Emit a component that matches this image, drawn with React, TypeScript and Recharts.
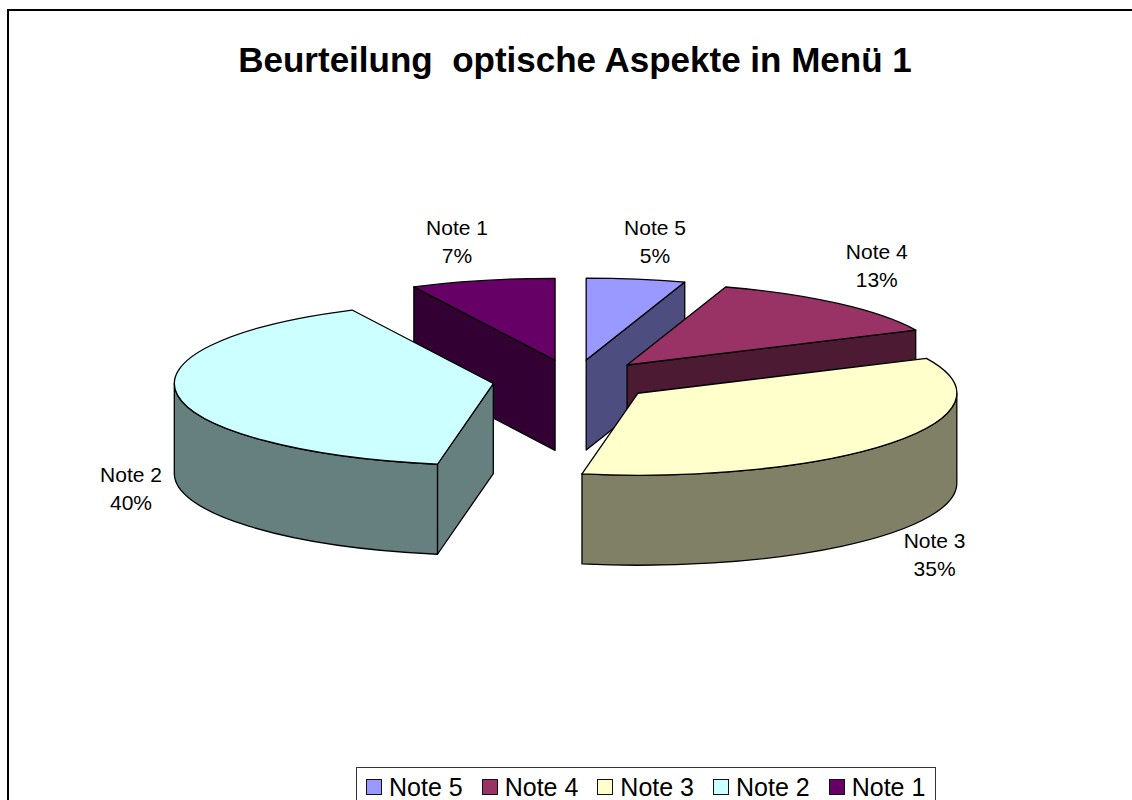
import React from "react";
import { PieChart, Pie, Legend } from "recharts";

const TITLE = "Beurteilung  optische Aspekte in Menü 1";
const categories = ["Note 5", "Note 4", "Note 3", "Note 2", "Note 1"];
const values = [5, 13, 34.8, 39.9, 7.3];
const colors = ["#9999FF", "#993366", "#FFFFCC", "#CCFFFF", "#660066"];

const FONT = '"Liberation Sans", Arial, sans-serif';
const TILT = 0.257;
const DEPTH = 90;
const EXPLODE = 81;
const RAD = Math.PI / 180;
const LABEL_RX = 370;
const LABEL_RY = 120;
const labelNudge: Record<string, [number, number]> = {
  "Note 5": [11, -1],
  "Note 4": [5, -10],
  "Note 3": [3, -2],
  "Note 2": [4, -2],
  "Note 1": [-14, -2],
};

// Note 1 is painted first because it sits behind Note 2, so the pie starts at its edge.
const rows = [4, 0, 1, 2, 3].map((i) => ({
  name: categories[i],
  value: values[i],
  fill: colors[i],
}));
const total = values.reduce((a, b) => a + b, 0);
const startAngle = 90 + (360 * values[4]) / total;

const darken = (hex: string) => {
  const n = parseInt(hex.slice(1), 16);
  const c = (s: number) => Math.round(((n >> s) & 255) / 2);
  return `rgb(${c(16)},${c(8)},${c(0)})`;
};

const centerOf = (cx: number, cy: number, mid: number) => [
  cx + EXPLODE * Math.cos(mid * RAD),
  cy - EXPLODE * TILT * Math.sin(mid * RAD),
];

function Slice3D(props: any) {
  const { cx, cy, outerRadius, startAngle: s, endAngle: e, midAngle, fill } = props;
  const rx = outerRadius;
  const ry = rx * TILT;
  const [ox, oy] = centerOf(cx, cy, midAngle);
  const pt = (a: number) => [ox + rx * Math.cos(a * RAD), oy - ry * Math.sin(a * RAD)];
  const wall = darken(fill);
  const common = { stroke: "#000", strokeWidth: 1.3, strokeLinejoin: "round" as const };

  const faces: React.ReactNode[] = [];
  const cut = (a: number, key: string) => {
    const [x, y] = pt(a);
    faces.push(
      <path
        key={key}
        d={`M${ox},${oy}L${x},${y}L${x},${y + DEPTH}L${ox},${oy + DEPTH}Z`}
        fill={wall}
        {...common}
      />
    );
  };
  if (Math.cos(s * RAD) < -1e-6) cut(s, "start");
  if (Math.cos(e * RAD) > 1e-6) cut(e, "end");

  // outer rim: only the front half of the ellipse shows
  for (const [hi, lo] of [[360, 180], [0, -180], [-360, -540]]) {
    const a1 = Math.min(s, hi);
    const a2 = Math.max(e, lo);
    if (a1 > a2) {
      const [x1, y1] = pt(a1);
      const [x2, y2] = pt(a2);
      faces.push(
        <path
          key={`rim${hi}`}
          d={`M${x1},${y1}A${rx},${ry} 0 0 1 ${x2},${y2}L${x2},${y2 + DEPTH}A${rx},${ry} 0 0 0 ${x1},${y1 + DEPTH}Z`}
          fill={wall}
          {...common}
        />
      );
    }
  }

  const [sx, sy] = pt(s);
  const [ex, ey] = pt(e);
  const large = s - e > 180 ? 1 : 0;
  return (
    <g>
      {faces}
      <path
        d={`M${ox},${oy}L${sx},${sy}A${rx},${ry} 0 ${large} 1 ${ex},${ey}Z`}
        fill={fill}
        {...common}
      />
    </g>
  );
}

function SliceLabel(props: any) {
  const { cx, cy, midAngle, name, value } = props;
  const [ox, oy] = centerOf(cx, cy, midAngle);
  const sin = Math.sin(midAngle * RAD);
  const [nx, ny] = labelNudge[name];
  const x = ox + LABEL_RX * Math.cos(midAngle * RAD) + nx;
  const y = oy - LABEL_RY * sin + (sin < 0 ? DEPTH : 0) + ny;
  const style = { fontFamily: FONT, fontSize: 21, fill: "#000" };
  return (
    <g>
      <text x={x} y={y - 6} textAnchor="middle" style={style}>{name}</text>
      <text x={x} y={y + 22} textAnchor="middle" style={style}>
        {`${Math.round((value / total) * 100)}%`}
      </text>
    </g>
  );
}

function LegendBox() {
  return (
    <div
      style={{
        boxSizing: "border-box",
        width: 580,
        height: 60,
        border: "1.5px solid #333",
        background: "#fff",
        display: "flex",
        paddingLeft: 9,
        paddingTop: 1,
        gap: 19,
        fontFamily: FONT,
        fontSize: 25,
        lineHeight: "36px",
        color: "#000",
      }}
    >
      {categories.map((c, i) => (
        <span key={c} style={{ display: "flex", alignItems: "flex-start", whiteSpace: "nowrap" }}>
          <span
            style={{
              boxSizing: "border-box",
              width: 16,
              height: 16,
              marginTop: 10,
              marginRight: 7,
              border: "1.5px solid #111",
              background: colors[i],
            }}
          />
          {c}
        </span>
      ))}
    </div>
  );
}

export default function App() {
  return (
    <div style={{ position: "absolute", left: 0, top: 0, width: 1132, height: 800, overflow: "hidden", background: "#fff" }}>
      <div
        style={{
          position: "absolute",
          left: 7,
          top: 9,
          width: 1300,
          height: 1000,
          border: "2px solid #000",
          boxSizing: "border-box",
        }}
      />
      <div style={{ position: "absolute", left: 0, top: 0 }}>
        <PieChart width={1132} height={800} margin={{ top: 0, right: 0, bottom: 0, left: 0 }}>
          <text
            x={575}
            y={72}
            textAnchor="middle"
            style={{ fontFamily: FONT, fontSize: 35, fontWeight: 700, fill: "#000", whiteSpace: "pre" }}
          >
            {TITLE}
          </text>
          <Pie
            data={rows}
            dataKey="value"
            nameKey="name"
            cx={573.5}
            cy={380.6}
            innerRadius={0}
            outerRadius={319}
            startAngle={startAngle}
            endAngle={startAngle - 360}
            paddingAngle={0}
            stroke="none"
            isAnimationActive={false}
            shape={Slice3D}
            label={SliceLabel}
            labelLine={false}
          />
          <Legend
            content={<LegendBox />}
            wrapperStyle={{ position: "absolute", left: 356, top: 767, width: 580, height: 60, bottom: "auto" }}
          />
        </PieChart>
      </div>
    </div>
  );
}
